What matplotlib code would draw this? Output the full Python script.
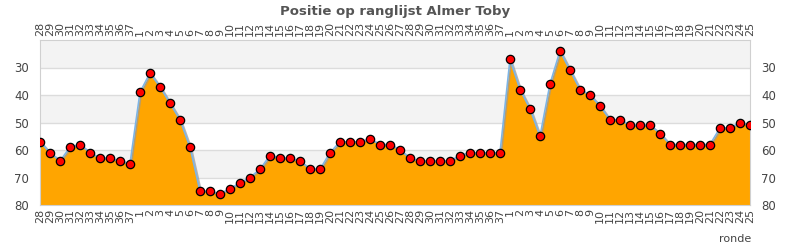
import matplotlib
matplotlib.use("Agg")
import matplotlib.pyplot as plt
import matplotlib.patheffects as pe
import numpy as np

# rondes: end of season 1, full season 2, part of season 3
rondes = [str(r) for r in range(28, 38)] + [str(r) for r in range(1, 38)] + [str(r) for r in range(1, 26)]

positie = [57, 61, 64, 59, 58, 61, 63, 63, 64, 65,
           39, 32, 37, 43, 49, 59, 75, 75, 76, 74, 72, 70, 67, 62, 63, 63, 64, 67, 67,
           61, 57, 57, 57, 56, 58, 58, 60, 63, 64, 64, 64, 64, 62, 61, 61, 61, 61,
           27, 38, 45, 55, 36, 24, 31, 38, 40, 44, 49, 49, 51, 51, 51, 54, 58, 58,
           58, 58, 58, 52, 52, 50, 51]

y_ticks = [30, 40, 50, 60, 70, 80]

fig = plt.figure(figsize=(7.9, 2.5), dpi=100)
ax = fig.add_axes([40 / 790, 45 / 250, 710 / 790, 165 / 250])

x = np.arange(len(rondes))
ymin, ymax = 20, 80

# alternating bands
for lo in range(20, 80, 20):
    ax.axhspan(lo, lo + 10, color='#f3f3f3', zorder=0, lw=0)
for g in y_ticks[:-1]:
    ax.axhline(g, color='#dcdcdc', lw=1, zorder=0.5)

ax.fill_between(x, positie, ymax, color='#ffa500', lw=0, zorder=1)
ax.plot(x, positie, color='#7db4e6', lw=1.2, zorder=2,
        path_effects=[pe.SimpleLineShadow(offset=(1, -0.5), shadow_color='#999999', alpha=0.7), pe.Normal()])
ax.plot(x, positie, ls='none', marker='o', ms=6, mfc='#ff0000', mec='black', mew=0.9, zorder=3)

ax.set_xlim(0, len(rondes) - 1)
ax.set_ylim(ymax, ymin)

ax.set_xticks(x)
ax.set_xticklabels(rondes, rotation=90, fontsize=8, color='#444444')
ax.tick_params(axis='x', which='both', top=True, labeltop=True, length=0, pad=3)
ax.set_yticks(y_ticks)
ax.set_yticklabels([str(v) for v in y_ticks], fontsize=8.5, color='#444444')
ax.tick_params(axis='y', which='both', right=True, labelright=True, length=0, pad=8)

for s in ax.spines.values():
    s.set_color('#d0d0d0')

fig.text(0.5, 1 - 11 / 250, 'Positie op ranglijst Almer Toby', ha='center', va='center',
         fontsize=9.5, fontweight='bold', color='#555555')
fig.text(735 / 790, 1 - 239 / 250, 'ronde', ha='center', va='center', fontsize=8, color='#444444')

fig.savefig('out.png', dpi=100)
plt.close(fig)
